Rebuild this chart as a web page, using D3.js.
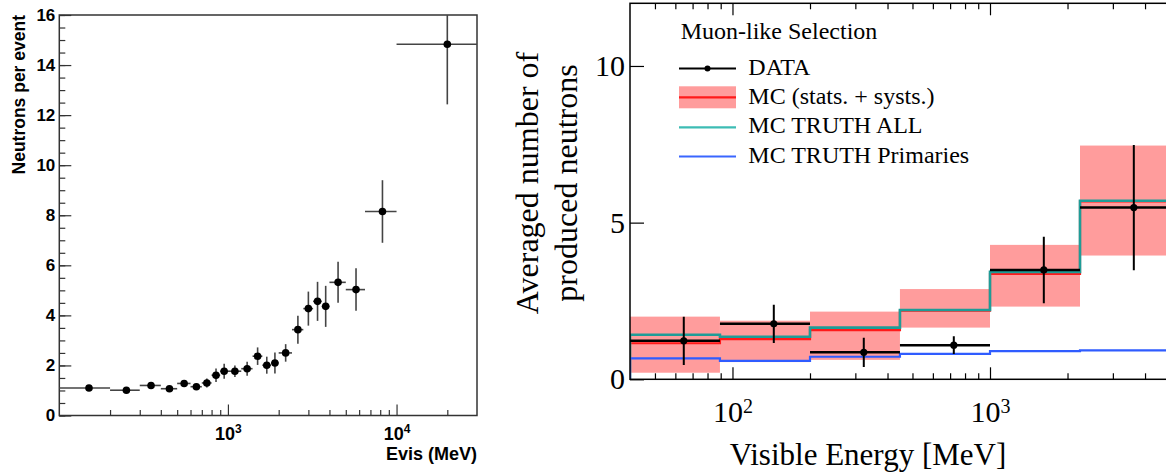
<!DOCTYPE html>
<html>
<head>
<meta charset="utf-8">
<script src="https://d3js.org/d3.v7.min.js"></script>
<style>
    body { margin: 0; background: #fff; }
    svg { display: block; }
</style>
</head>
<body>
<div id="chart"></div>
<script>
// ---- left panel: neutrons per event vs Evis ----
const leftBinEdges = [100, 200, 300, 400, 500, 600, 700, 800, 900, 1000, 1200, 1400, 1600, 1800, 2000,
    2400, 2800, 3200, 3600, 4000, 5000, 6500, 10000, 30000];
const leftValues = [1.10, 1.01, 1.20, 1.07, 1.28, 1.15, 1.30, 1.61, 1.77, 1.77, 1.87, 2.37, 2.01, 2.10, 2.50,
    3.43, 4.27, 4.56, 4.36, 5.32, 5.03, 8.15, 14.83];
const leftErrors = [0.06, 0.06, 0.10, 0.08, 0.12, 0.12, 0.18, 0.27, 0.30, 0.23, 0.28, 0.35, 0.34, 0.42, 0.35,
    0.56, 0.68, 0.78, 0.82, 0.82, 0.85, 1.25, 2.40];
const leftYTicks = [0, 2, 4, 6, 8, 10, 12, 14, 16];
const leftXTicks = [1000, 10000];
const leftXTickLabels = [["10", "3"], ["10", "4"]];
const leftXMinor = [200, 300, 400, 500, 600, 700, 800, 900, 2000, 3000, 4000, 5000, 6000, 7000, 8000, 9000, 20000];

// ---- right panel: muon-like selection ----
const rightBinEdges = [40, 89.4, 200, 447, 1000, 2236, 5000];
const dataValues = [1.23, 1.77, 0.86, 1.09, 3.49, 5.48];
const dataErrors = [0.77, 0.61, 0.47, 0.28, 1.06, 2.00];
const mcValues = [1.15, 1.28, 1.57, 2.19, 3.36, 5.68];
const mcLow = [0.21, 0.55, 0.62, 1.65, 2.32, 3.95];
const mcHigh = [2.00, 1.87, 2.16, 2.88, 4.29, 7.46];
const truthAll = [1.42, 1.36, 1.65, 2.21, 3.43, 5.70];
const truthPrimaries = [0.67, 0.59, 0.72, 0.81, 0.90, 0.92];
const rightYTicks = [0, 5, 10];
const rightXTicks = [100, 1000];
const rightXTickLabels = [["10", "2"], ["10", "3"]];
const rightXMinor = [50, 60, 70, 80, 90, 200, 300, 400, 500, 600, 700, 800, 900, 2000, 3000, 4000];
const legendLabels = ["DATA", "MC (stats. + systs.)", "MC TRUTH ALL", "MC TRUTH Primaries"];

const width = 1166, height = 474;
const sans = "'Liberation Sans', Arial, sans-serif";
const serif = "'Liberation Serif', 'Times New Roman', serif";

const svg = d3.select("#chart")
    .append("svg")
    .attr("width", width)
    .attr("height", height);

// ================= LEFT PANEL =================
const L = { left: 59.3, right: 477, top: 15, bottom: 415.5 };

const xL = d3.scaleLog().domain([100, 30000]).range([L.left, L.right]);
const yL = d3.scaleLinear().domain([0, 16]).range([L.bottom, L.top]);

const left = svg.append("g");

// minor ticks
left.append("g")
    .attr("transform", `translate(${L.left},0)`)
    .call(d3.axisLeft(yL).tickValues(d3.range(0, 16.01, 0.5)).tickSize(-6).tickSizeOuter(0).tickFormat(""))
    .call(g => g.select(".domain").remove())
    .call(g => g.selectAll("line").attr("stroke", "#333").attr("stroke-width", 1.2));

left.append("g")
    .attr("transform", `translate(0,${L.bottom})`)
    .call(d3.axisBottom(xL).tickValues(leftXMinor).tickSize(-5.5).tickSizeOuter(0).tickFormat(""))
    .call(g => g.select(".domain").remove())
    .call(g => g.selectAll("line").attr("stroke", "#333").attr("stroke-width", 1.2));

// major ticks + labels
left.append("g")
    .attr("transform", `translate(${L.left},0)`)
    .call(d3.axisLeft(yL).tickValues(leftYTicks).tickSize(-12).tickSizeOuter(0).tickPadding(4))
    .call(g => g.select(".domain").remove())
    .call(g => g.selectAll("line").attr("stroke", "#333").attr("stroke-width", 1.2))
    .call(g => g.selectAll("text").attr("fill", "#000"))
    .style("font-family", sans)
    .style("font-size", "17px")
    .style("font-weight", "bold");

left.append("g")
    .attr("transform", `translate(0,${L.bottom})`)
    .call(d3.axisBottom(xL).tickValues(leftXTicks).tickSize(-11).tickSizeOuter(0).tickPadding(12).tickFormat(""))
    .call(g => g.select(".domain").remove())
    .call(g => g.selectAll("line").attr("stroke", "#333").attr("stroke-width", 1.2))
    .call(g => g.selectAll(".tick text").attr("fill", "#000").each(function (d, i) {
        const t = d3.select(this);
        t.append("tspan").text(leftXTickLabels[i][0]);
        t.append("tspan").attr("font-size", "12px").attr("dy", "-0.6em").text(leftXTickLabels[i][1]);
    }))
    .style("font-family", sans)
    .style("font-size", "18px")
    .style("font-weight", "bold");

// frame
left.append("rect")
    .attr("x", L.left).attr("y", L.top)
    .attr("width", L.right - L.left).attr("height", L.bottom - L.top)
    .attr("fill", "none").attr("stroke", "#333").attr("stroke-width", 1.5);

// data points
const leftData = leftValues.map((v, i) => ({
    lo: leftBinEdges[i], hi: leftBinEdges[i + 1], v: v, e: leftErrors[i]
}));

left.selectAll(".hbar")
    .data(leftData)
    .enter()
    .append("line")
    .attr("x1", d => xL(d.lo)).attr("x2", d => xL(d.hi))
    .attr("y1", d => yL(d.v)).attr("y2", d => yL(d.v))
    .attr("stroke", "#444").attr("stroke-width", 1.6);

left.selectAll(".vbar")
    .data(leftData)
    .enter()
    .append("line")
    .attr("x1", d => xL((d.lo + d.hi) / 2)).attr("x2", d => xL((d.lo + d.hi) / 2))
    .attr("y1", d => yL(Math.min(16, d.v + d.e))).attr("y2", d => yL(d.v - d.e))
    .attr("stroke", "#444").attr("stroke-width", 1.6);

left.selectAll(".pt")
    .data(leftData)
    .enter()
    .append("circle")
    .attr("cx", d => xL((d.lo + d.hi) / 2))
    .attr("cy", d => yL(d.v))
    .attr("r", 3.8)
    .attr("fill", "#000");

// titles
left.append("text")
    .attr("x", L.right).attr("y", 460)
    .attr("text-anchor", "end")
    .style("font-family", sans).style("font-size", "18px").style("font-weight", "bold")
    .text("Evis (MeV)");

left.append("text")
    .attr("transform", `translate(24.5,${L.top}) rotate(-90)`)
    .attr("text-anchor", "end")
    .style("font-family", sans).style("font-size", "17.5px").style("font-weight", "bold")
    .text("Neutrons per event");

// ================= RIGHT PANEL =================
const R = { left: 630, right: 1170, top: 3.3, bottom: 379.3 };

const xR = d3.scaleLog().domain([40, 5000]).range([R.left, R.right]);
const yR = d3.scaleLinear().domain([0, 12]).range([R.bottom, R.top]);

const right = svg.append("g");

right.append("clipPath").attr("id", "clipR")
    .append("rect")
    .attr("x", R.left).attr("y", R.top)
    .attr("width", R.right - R.left).attr("height", R.bottom - R.top);

const plot = right.append("g").attr("clip-path", "url(#clipR)");

const bins = mcValues.map((v, i) => ({
    lo: rightBinEdges[i], hi: rightBinEdges[i + 1],
    mc: v, low: mcLow[i], high: mcHigh[i],
    data: dataValues[i], err: dataErrors[i]
}));

// MC band
plot.selectAll(".band")
    .data(bins)
    .enter()
    .append("rect")
    .attr("x", d => xR(d.lo))
    .attr("width", d => xR(d.hi) - xR(d.lo))
    .attr("y", d => yR(d.high))
    .attr("height", d => yR(d.low) - yR(d.high))
    .attr("fill", "#ff9c9c");

const stepLine = d3.line()
    .x(d => xR(d[0]))
    .y(d => yR(d[1]))
    .curve(d3.curveStepAfter);

function stepPoints(values) {
    const pts = [[rightBinEdges[0], 0]];
    values.forEach((v, i) => pts.push([rightBinEdges[i], v]));
    pts.push([rightBinEdges[rightBinEdges.length - 1], values[values.length - 1]]);
    return pts;
}

plot.append("path")
    .attr("d", stepLine(stepPoints(mcValues)))
    .attr("fill", "none").attr("stroke", "#ff1a1a").attr("stroke-width", 2.2);

plot.append("path")
    .attr("d", stepLine(stepPoints(truthAll)))
    .attr("fill", "none").attr("stroke", "#1f9c97").attr("stroke-width", 2.6);

plot.append("path")
    .attr("d", stepLine(stepPoints(truthPrimaries)))
    .attr("fill", "none").attr("stroke", "#2f5cff").attr("stroke-width", 2.2);

// data
plot.selectAll(".dh")
    .data(bins)
    .enter()
    .append("line")
    .attr("x1", d => xR(d.lo)).attr("x2", d => xR(d.hi))
    .attr("y1", d => yR(d.data)).attr("y2", d => yR(d.data))
    .attr("stroke", "#000").attr("stroke-width", 2.5);

plot.selectAll(".dv")
    .data(bins)
    .enter()
    .append("line")
    .attr("x1", d => xR((d.lo + d.hi) / 2)).attr("x2", d => xR((d.lo + d.hi) / 2))
    .attr("y1", d => yR(d.data + d.err)).attr("y2", d => yR(d.data - d.err))
    .attr("stroke", "#000").attr("stroke-width", 2);

plot.selectAll(".dp")
    .data(bins)
    .enter()
    .append("circle")
    .attr("cx", d => xR((d.lo + d.hi) / 2))
    .attr("cy", d => yR(d.data))
    .attr("r", 3.6)
    .attr("fill", "#000");

// axes
function tickStyle(g) {
    g.select(".domain").remove();
    g.selectAll("line").attr("stroke", "#000").attr("stroke-width", 1.2);
}

right.append("g")
    .attr("transform", `translate(0,${R.bottom})`)
    .call(d3.axisBottom(xR).tickValues(rightXMinor).tickSize(-6).tickSizeOuter(0).tickFormat(""))
    .call(tickStyle);

right.append("g")
    .attr("transform", `translate(0,${R.top})`)
    .call(d3.axisTop(xR).tickValues(rightXMinor).tickSize(-6).tickSizeOuter(0).tickFormat(""))
    .call(tickStyle);

right.append("g")
    .attr("transform", `translate(0,${R.top})`)
    .call(d3.axisTop(xR).tickValues(rightXTicks).tickSize(-12).tickSizeOuter(0).tickFormat(""))
    .call(tickStyle);

right.append("g")
    .attr("transform", `translate(0,${R.bottom})`)
    .call(d3.axisBottom(xR).tickValues(rightXTicks).tickSize(-12).tickSizeOuter(0).tickPadding(21).tickFormat(""))
    .call(tickStyle)
    .call(g => g.selectAll(".tick text").attr("fill", "#000").each(function (d, i) {
        const t = d3.select(this);
        t.append("tspan").text(rightXTickLabels[i][0]);
        t.append("tspan").attr("font-size", "20px").attr("dy", "-0.42em").text(rightXTickLabels[i][1]);
    }))
    .style("font-family", serif)
    .style("font-size", "30px");

right.append("g")
    .attr("transform", `translate(${R.left},0)`)
    .call(d3.axisLeft(yR).tickValues(rightYTicks).tickSize(-14).tickSizeOuter(0).tickPadding(5))
    .call(tickStyle)
    .call(g => g.selectAll("text").attr("fill", "#000"))
    .style("font-family", serif)
    .style("font-size", "30px");

right.append("rect")
    .attr("x", R.left).attr("y", R.top)
    .attr("width", R.right - R.left).attr("height", R.bottom - R.top)
    .attr("fill", "none").attr("stroke", "#000").attr("stroke-width", 1.5);

// axis titles
right.append("text")
    .attr("x", 868).attr("y", 465)
    .attr("text-anchor", "middle")
    .style("font-family", serif).style("font-size", "31px")
    .text("Visible Energy [MeV]");

const yTitle = right.append("text")
    .attr("transform", "translate(538,183) rotate(-90)")
    .attr("text-anchor", "middle")
    .style("font-family", serif).style("font-size", "32px");
yTitle.append("tspan").attr("x", 0).attr("dy", 0).text("Averaged number of");
yTitle.append("tspan").attr("x", 0).attr("dy", 39).text("produced neutrons");

// legend
const legend = right.append("g");
legend.append("text")
    .attr("x", 680.7).attr("y", 39.3)
    .style("font-family", serif).style("font-size", "24px")
    .text("Muon-like Selection");

const legendY = [75, 104.3, 133.3, 162.5];
const lx0 = 679, lx1 = 736;

legend.selectAll(".lt")
    .data(legendLabels)
    .enter()
    .append("text")
    .attr("x", 748.3)
    .attr("y", (d, i) => legendY[i])
    .style("font-family", serif).style("font-size", "24px")
    .text(d => d);

// DATA symbol
legend.append("line")
    .attr("x1", lx0).attr("x2", lx1).attr("y1", legendY[0] - 6.5).attr("y2", legendY[0] - 6.5)
    .attr("stroke", "#000").attr("stroke-width", 1.8);
legend.append("circle")
    .attr("cx", (lx0 + lx1) / 2).attr("cy", legendY[0] - 6.5).attr("r", 3)
    .attr("fill", "#000");
// MC symbol
legend.append("rect")
    .attr("x", lx0).attr("y", legendY[1] - 18).attr("width", lx1 - lx0).attr("height", 22)
    .attr("fill", "#ff9c9c");
legend.append("line")
    .attr("x1", lx0).attr("x2", lx1).attr("y1", legendY[1] - 7).attr("y2", legendY[1] - 7)
    .attr("stroke", "#ff1a1a").attr("stroke-width", 2.2);
// truth all
legend.append("line")
    .attr("x1", lx0).attr("x2", lx1).attr("y1", legendY[2] - 6).attr("y2", legendY[2] - 6)
    .attr("stroke", "#3dbcb4").attr("stroke-width", 2.2);
// primaries
legend.append("line")
    .attr("x1", lx0).attr("x2", lx1).attr("y1", legendY[3] - 6).attr("y2", legendY[3] - 6)
    .attr("stroke", "#3a66ff").attr("stroke-width", 2.2);
</script>
</body>
</html>
